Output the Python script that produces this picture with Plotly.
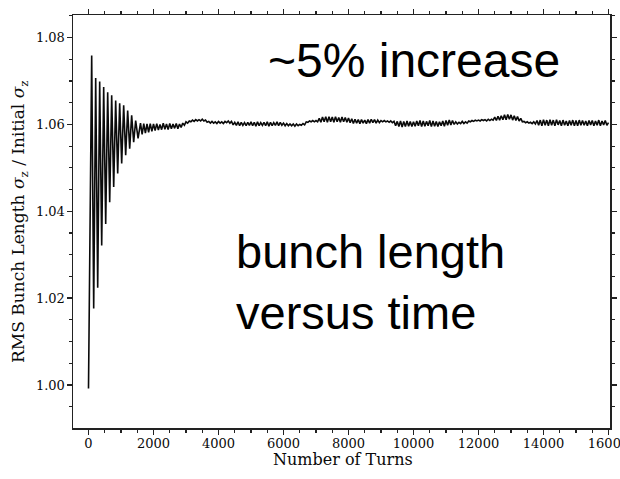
import plotly.graph_objects as go

# ---- data ----
# early, large oscillations: successive extrema (turn, value)
early_turns = [0, 98, 160, 221, 283, 344, 406, 467, 529, 590, 652, 713, 775,
               836, 898, 959, 1021, 1082, 1144, 1205, 1267, 1328, 1390, 1451, 1525]
early_values = [0.9992, 1.0759, 1.0176, 1.0707, 1.0224, 1.0699, 1.0321, 1.0686,
                1.0371, 1.0674, 1.0421, 1.0667, 1.0456, 1.0655, 1.0487, 1.0649,
                1.0510, 1.0644, 1.0529, 1.0632, 1.0544, 1.0621, 1.0559, 1.0609,
                1.0568]

# later, small wiggles around ~1.06 (read every 50 turns from 1600 to 16000)
late_turns = list(range(1600, 16001, 50))
late_values = [
    # 1600-1950
    1.0603, 1.0577, 1.0602, 1.0580, 1.0601, 1.0582, 1.0602, 1.0584,
    # 2000-2950
    1.0601, 1.0586, 1.0602, 1.0587, 1.0600, 1.0588, 1.0603, 1.0589, 1.0601, 1.0588,
    1.0602, 1.0590, 1.0601, 1.0591, 1.0602, 1.0590, 1.0601, 1.0593, 1.0603, 1.0598,
    # 3000-3950
    1.0606, 1.0603, 1.0608, 1.0606, 1.0610, 1.0607, 1.0611, 1.0608, 1.0611, 1.0608,
    1.0612, 1.0608, 1.0610, 1.0605, 1.0607, 1.0603, 1.0607, 1.0603, 1.0606, 1.0602,
    # 4000-4950
    1.0607, 1.0603, 1.0606, 1.0602, 1.0607, 1.0604, 1.0608, 1.0603, 1.0607, 1.0599,
    1.0605, 1.0598, 1.0606, 1.0597, 1.0605, 1.0598, 1.0604, 1.0597, 1.0605, 1.0598,
    # 5000-5950
    1.0606, 1.0597, 1.0605, 1.0596, 1.0606, 1.0597, 1.0604, 1.0598, 1.0605, 1.0597,
    1.0606, 1.0596, 1.0605, 1.0597, 1.0604, 1.0598, 1.0606, 1.0597, 1.0605, 1.0598,
    # 6000-6950
    1.0603, 1.0597, 1.0602, 1.0597, 1.0601, 1.0597, 1.0601, 1.0596, 1.0601, 1.0597,
    1.0600, 1.0598, 1.0602, 1.0599, 1.0606, 1.0605, 1.0608, 1.0606, 1.0609, 1.0606,
    # 7000-7950
    1.0609, 1.0606, 1.0614, 1.0605, 1.0617, 1.0606, 1.0618, 1.0605, 1.0618, 1.0606,
    1.0617, 1.0605, 1.0618, 1.0606, 1.0616, 1.0605, 1.0617, 1.0606, 1.0616, 1.0605,
    # 8000-8950
    1.0615, 1.0604, 1.0613, 1.0602, 1.0612, 1.0603, 1.0611, 1.0602, 1.0611, 1.0603,
    1.0610, 1.0602, 1.0611, 1.0603, 1.0612, 1.0604, 1.0611, 1.0603, 1.0610, 1.0604,
    # 9000-9950
    1.0609, 1.0606, 1.0609, 1.0606, 1.0608, 1.0605, 1.0608, 1.0604, 1.0607, 1.0597,
    1.0607, 1.0595, 1.0608, 1.0594, 1.0607, 1.0595, 1.0608, 1.0596, 1.0607, 1.0595,
    # 10000-10950
    1.0606, 1.0596, 1.0608, 1.0597, 1.0609, 1.0595, 1.0608, 1.0596, 1.0607, 1.0597,
    1.0609, 1.0595, 1.0608, 1.0596, 1.0607, 1.0595, 1.0606, 1.0597, 1.0608, 1.0596,
    # 11000-11950
    1.0609, 1.0598, 1.0610, 1.0599, 1.0609, 1.0600, 1.0606, 1.0601, 1.0605, 1.0602,
    1.0607, 1.0602, 1.0606, 1.0603, 1.0608, 1.0606, 1.0609, 1.0607, 1.0610, 1.0608,
    # 12000-12950
    1.0610, 1.0608, 1.0611, 1.0609, 1.0611, 1.0608, 1.0612, 1.0609, 1.0612, 1.0610,
    1.0617, 1.0609, 1.0619, 1.0610, 1.0620, 1.0611, 1.0622, 1.0611, 1.0623, 1.0612,
    # 13000-13950
    1.0622, 1.0610, 1.0620, 1.0609, 1.0618, 1.0608, 1.0614, 1.0606, 1.0607, 1.0604,
    1.0606, 1.0603, 1.0605, 1.0602, 1.0606, 1.0601, 1.0609, 1.0598, 1.0610, 1.0597,
    # 14000-14950
    1.0611, 1.0598, 1.0610, 1.0597, 1.0611, 1.0598, 1.0610, 1.0597, 1.0611, 1.0599,
    1.0609, 1.0597, 1.0610, 1.0598, 1.0608, 1.0597, 1.0609, 1.0598, 1.0610, 1.0597,
    # 15000-15950
    1.0609, 1.0597, 1.0610, 1.0598, 1.0609, 1.0598, 1.0608, 1.0597, 1.0609, 1.0599,
    1.0609, 1.0597, 1.0608, 1.0598, 1.0610, 1.0597, 1.0608, 1.0599, 1.0609, 1.0598,
    # 16000
    1.0604,
]
assert len(late_turns) == len(late_values)

x_ticks = [0, 2000, 4000, 6000, 8000, 10000, 12000, 14000, 16000]
y_ticks = [1.00, 1.02, 1.04, 1.06, 1.08]

x_title = "Number of Turns"
y_title = "RMS Bunch Length <i>σ</i><sub>z</sub> / Initial <i>σ</i><sub>z</sub>"
note_top = "~5% increase"
note_mid = "bunch length<br>versus time"

turns = early_turns + late_turns
values = early_values + late_values

serif = "DejaVu Serif"
sans = "Liberation Sans, Arial, sans-serif"
ink = "#0a0a0a"

fig = go.Figure()
fig.add_trace(go.Scatter(x=turns, y=values, mode="lines",
                         line=dict(color=ink, width=1.6),
                         showlegend=False, hoverinfo="skip"))

axis_common = dict(
    showline=True, linecolor="#222222", linewidth=1.5, mirror="ticks",
    ticks="outside", ticklen=5, tickwidth=1.3, tickcolor="#222222",
    showgrid=False, zeroline=False, automargin=False,
    tickfont=dict(family=serif, size=13, color=ink),
)

fig.update_xaxes(
    range=[-477, 16046], tickvals=x_ticks, ticktext=[str(v) for v in x_ticks],
    minor=dict(ticks="outside", ticklen=3, dtick=500, tick0=0,
               tickwidth=1.2, tickcolor="#222222", showgrid=False),
    ticklabeloverflow="allow", ticklabelstandoff=-2,
    **axis_common,
)
fig.update_yaxes(
    range=[0.9901, 1.0852], tickvals=y_ticks,
    ticktext=[f"{v:.2f}" for v in y_ticks],
    minor=dict(ticks="outside", ticklen=3, dtick=0.005, tick0=1.0,
               tickwidth=1.2, tickcolor="#222222", showgrid=False),
    ticklabelstandoff=-1,
    **axis_common,
)

# axis titles placed as annotations (exact positions)
fig.add_annotation(xref="paper", yref="paper", x=-0.0996, y=0.5,
                   text=y_title, textangle=-90, showarrow=False,
                   xanchor="center", yanchor="middle",
                   font=dict(family=serif, size=17, color=ink))
fig.add_annotation(xref="paper", yref="paper", x=0.502, y=-0.0765,
                   text=x_title, showarrow=False,
                   xanchor="center", yanchor="middle",
                   font=dict(family=serif, size=16, color=ink))

fig.add_annotation(xref="paper", yref="paper", x=0.36, y=0.889,
                   text=note_top, showarrow=False, xanchor="left",
                   yanchor="middle", align="left",
                   font=dict(family=sans, size=48, color="#000000"))
fig.add_annotation(xref="paper", yref="paper", x=0.299, y=0.3535,
                   text=note_mid, showarrow=False, xanchor="left",
                   yanchor="middle", align="left",
                   font=dict(family=sans, size=47, color="#000000"))

fig.update_layout(
    width=620, height=479,
    margin=dict(l=73, r=10, t=15, b=51, autoexpand=False),
    paper_bgcolor="white", plot_bgcolor="white",
)

# remove the default 8px page margin so the figure fills the window exactly
fig.write_html("out.html",
               config={"displayModeBar": False, "staticPlot": True},
               post_script="document.body.style.margin='0';"
                           "document.body.style.overflow='hidden';")
